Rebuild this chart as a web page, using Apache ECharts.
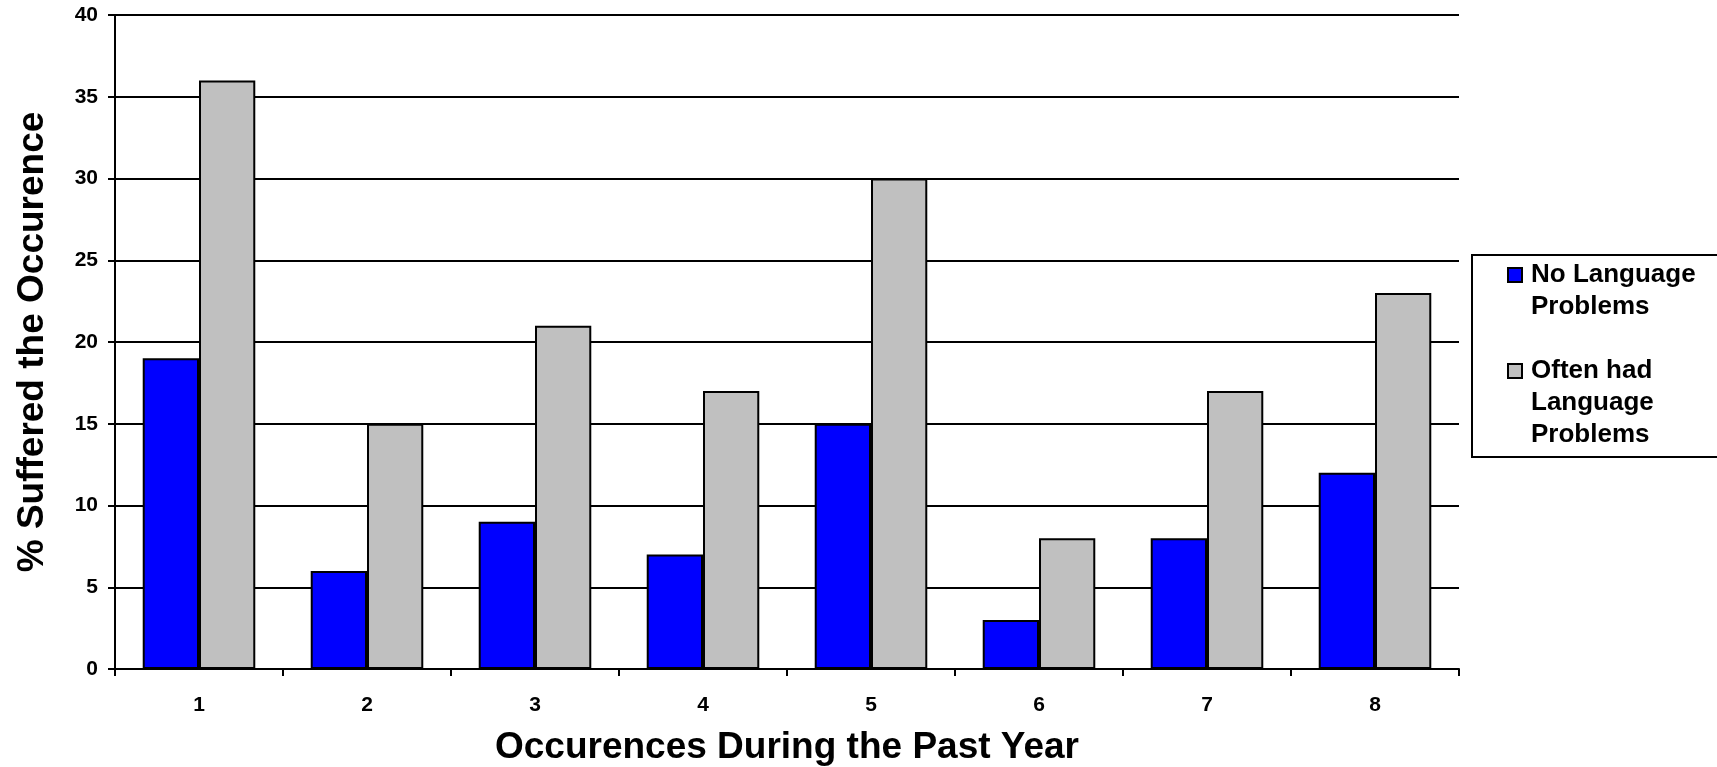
<!DOCTYPE html>
<html>
<head>
<meta charset="utf-8">
<script src="https://cdn.jsdelivr.net/npm/echarts@6/dist/echarts.min.js"></script>
<style>html,body{margin:0;padding:0;background:#fff}#c{width:1717px;height:767px}</style>
</head>
<body>
<div id="c"></div>
<script>
var categories = ['1', '2', '3', '4', '5', '6', '7', '8'];
var noLanguageProblems = [19, 6, 9, 7, 15, 3, 8, 12];
var oftenLanguageProblems = [36, 15, 21, 17, 30, 8, 17, 23];
var seriesNames = ['No Language\nProblems', 'Often had\nLanguage\nProblems'];
var yTicks = { min: 0, max: 40, interval: 5 };
var xTitle = 'Occurences During the Past Year';
var yTitle = '% Suffered the Occurence';

var FONT = '"Liberation Sans", Arial, sans-serif';
var chart = echarts.init(document.getElementById('c'), null, { renderer: 'canvas' });
chart.setOption({
  animation: false,
  backgroundColor: '#ffffff',
  grid: { left: 115, top: 15, right: 258, bottom: 98, containLabel: false, outerBoundsMode: 'none' },
  graphic: [{
    type: 'rect', z: 3,
    shape: { x: 1472, y: 255, width: 270, height: 202 },
    style: { fill: '#ffffff', stroke: '#000000', lineWidth: 2 }
  }],
  legend: {
    orient: 'vertical',
    left: 1507, top: 227,
    padding: 0,
    itemGap: -32,
    itemWidth: 14, itemHeight: 14,
    z: 5,
    formatter: function (name) {
      var lines = name.split('\n').length;
      var pre = '';
      for (var i = 1; i < lines; i++) pre += '\n';
      return pre + name;
    },
    textStyle: { fontFamily: FONT, fontWeight: 'bold', fontSize: 26, color: '#000', lineHeight: 32, padding: [0, 0, 0, 4] },
    data: [
      { name: seriesNames[0], icon: 'rect' },
      { name: seriesNames[1], icon: 'rect' }
    ]
  },
  xAxis: {
    type: 'category',
    data: categories,
    name: xTitle,
    nameLocation: 'middle',
    nameGap: 60,
    nameTextStyle: { fontFamily: FONT, fontWeight: 'bold', fontSize: 37, color: '#000' },
    axisLine: { lineStyle: { color: '#000', width: 2 } },
    axisTick: { show: true, inside: false, length: 7, lineStyle: { color: '#000', width: 2 } },
    axisLabel: { fontFamily: FONT, fontWeight: 'bold', fontSize: 21, color: '#000', margin: 26 },
    splitLine: { show: false }
  },
  yAxis: {
    type: 'value',
    min: yTicks.min, max: yTicks.max, interval: yTicks.interval,
    name: yTitle,
    nameLocation: 'middle',
    nameGap: 64,
    nameTextStyle: { fontFamily: FONT, fontWeight: 'bold', fontSize: 37, color: '#000' },
    axisLine: { show: true, lineStyle: { color: '#000', width: 2 } },
    axisTick: { show: true, inside: false, length: 7, lineStyle: { color: '#000', width: 2 } },
    axisLabel: { fontFamily: FONT, fontWeight: 'bold', fontSize: 21, color: '#000', margin: 17 },
    splitLine: { show: true, lineStyle: { color: '#000', width: 2 } }
  },
  series: [
    {
      name: seriesNames[0], type: 'bar', data: noLanguageProblems,
      barGap: '0%', barCategoryGap: '33%',
      itemStyle: { color: '#0000ff', borderColor: '#000', borderWidth: 2 }
    },
    {
      name: seriesNames[1], type: 'bar', data: oftenLanguageProblems,
      barGap: '0%', barCategoryGap: '33%',
      itemStyle: { color: '#c0c0c0', borderColor: '#000', borderWidth: 2 }
    }
  ]
});
</script>
</body>
</html>
